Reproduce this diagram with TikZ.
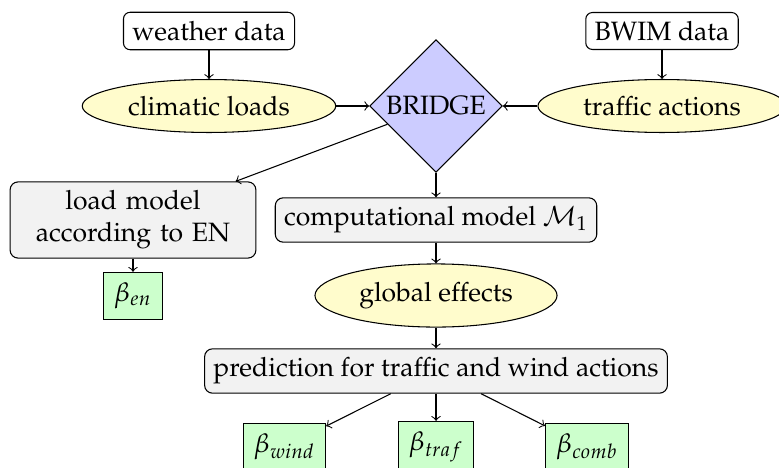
\documentclass[tikz,border=0pt]{standalone}
\usepackage[T1]{fontenc}
\usepackage{mathpazo}
\usetikzlibrary{shapes.geometric}

\tikzset{every picture/.style={line width=0.4pt}}
\tikzset{
	databox/.style={draw, rounded corners=2.5pt, fill=white},
	loadell/.style={draw, ellipse, fill=yellow!20, minimum height=19.6pt},
	bridgedia/.style={draw, diamond, aspect=1, fill=blue!20, inner sep=1.3pt},
	modelbox/.style={draw, rounded corners=3pt, fill=gray!10},
	betabox/.style={draw, fill=green!20, inner sep=4pt},
}

\begin{document}
\begin{tikzpicture}[x=0.377pt,y=0.377pt,yscale=-1,xscale=1]
	\useasboundingbox (0,0) rectangle (779,467);

	% Data sources
	\node[databox] (weather) at (209,31) {weather data};
	\node[databox] (bwim) at (662,31) {BWIM data};
	% Actions
	\node[loadell] (climatic) at (209,106) {climatic loads};
	\node[loadell] (traffic) at (662,106) {traffic actions};
	% Bridge
	\node[bridgedia] (bridge) at (436,106) {BRIDGE};
	% Models
	\node[modelbox, text width=86pt, align=center] (loadmodel) at (133,220) {load model\\according to EN};
	\node[modelbox] (compmodel) at (436,220) {computational model $\mathcal{M}_1$};
	\node[loadell, minimum height=23.8pt] (global) at (436,295.5) {global effects};
	\node[modelbox] (prediction) at (436,371) {prediction for traffic and wind actions};
	% Reliability indices
	\node[betabox] (ben) at (133,296) {$\beta_{en}$};
	\node[betabox] (bwind) at (284.5,447) {$\beta_{wind}$};
	\node[betabox] (btraf) at (436,447) {$\beta_{traf}$};
	\node[betabox] (bcomb) at (587,447) {$\beta_{comb}$};

	% Connectors
	\draw[->] (weather) -- (climatic);
	\draw[->] (bwim) -- (traffic);
	\draw[->] (climatic) -- (bridge);
	\draw[->] (traffic) -- (bridge);
	\draw[->] (bridge) -- (loadmodel);
	\draw[->] (bridge) -- (compmodel);
	\draw[->] (loadmodel) -- (ben);
	\draw[->] (compmodel) -- (global);
	\draw[->] (global) -- (prediction);
	\draw[->] (prediction) -- (bwind);
	\draw[->] (prediction) -- (btraf);
	\draw[->] (prediction) -- (bcomb);

\end{tikzpicture}
\end{document}
